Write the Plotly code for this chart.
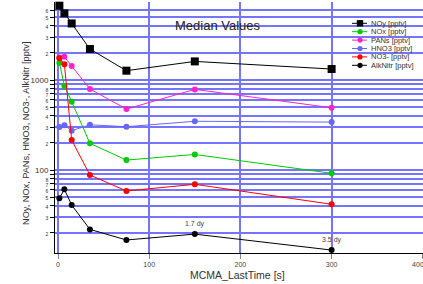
import math
import plotly.graph_objects as go

# ---- data ----
x_time = [1.5, 7, 15, 35, 75, 150, 300]
noy = [6700, 5500, 4250, 2210, 1270, 1610, 1325]
nox = [1560, 860, 575, 198, 129, 149, 92]
pans = [1780, 1810, 1430, 794, 476, 787, 492]
hno3 = [301, 314, 274, 318, 303, 348, 341]
no3 = [1750, 1500, 215, 88, 58.5, 69.4, 41.6]
alknitr = [48.5, 61, 40.8, 21.9, 16.7, 19.4, 12.9]

series_names = ["NOy [pptv]", "NOx [pptv]", "PANs [pptv]", "HNO3 [pptv]", "NO3- [pptv]", "AlkNitr [pptv]"]
series_values = [noy, nox, pans, hno3, no3, alknitr]
series_colors = ["#000000", "#00cc00", "#ff22cc", "#6666ff", "#ff0000", "#000000"]
series_symbols = ["square", "circle", "circle", "circle", "circle", "circle"]

x_tick_vals = [0, 100, 200, 300, 400]
x_tick_text = ["0", "100", "200", "300", "400"]
y_tick_vals = [20, 30, 40, 50, 60, 70, 80, 90,
               100, 200, 300, 400, 500, 600, 700, 800, 900,
               1000, 2000, 3000, 4000, 5000, 6000]
y_tick_text = ["2", "3", "4", "5", "6", "7", "8", "",
               "100", "2", "3", "4", "5", "6", "7", "8", "",
               "1000", "2", "3", "4", "5", "6"]
notes = [(150, 19.4, "1.7 dy"), (300, 12.9, "3.5 dy")]

# ---- layout geometry (pixels) ----
W, H = 423, 284
L, R, T, B = 55, 423, 2, 253
def px(x):
    return (x - L) / (R - L)
def py(y):
    return (B - y) / (B - T)

FONT = "Liberation Sans, Arial, sans-serif"
GRID = "#7474ff"

fig = go.Figure()
for name, vals, col, sym in zip(series_names, series_values, series_colors, series_symbols):
    fig.add_trace(go.Scatter(
        x=x_time, y=vals, name=name, mode="lines+markers",
        line=dict(color=col, width=1),
        marker=dict(symbol=sym, color=col, size=8 if sym == "square" else 6,
                    line=dict(width=0)),
        cliponaxis=False, showlegend=False, hoverinfo="skip"))

def fmt_tick(t):
    if t in ("100", "1000"):
        return t
    return '<span style="font-size:5px">' + t + '</span>' if t else ""

x_text = [t if t != "400" else t + "&nbsp;" * 5 for t in x_tick_text]

fig.update_xaxes(
    range=[-3.3, 400.2], tickvals=x_tick_vals, ticktext=x_text,
    automargin=False,
    showgrid=True, gridcolor=GRID, gridwidth=2, zeroline=False,
    showline=True, linecolor="black", linewidth=1,
    ticks="outside", ticklen=5, tickcolor="#888", tickwidth=1,
    ticklabeloverflow="allow",
    tickfont=dict(size=7, color="#444", family=FONT))
fig.update_yaxes(
    type="log", range=[1.078, 3.867], tickvals=y_tick_vals,
    ticktext=[fmt_tick(t) for t in y_tick_text],
    automargin=False,
    showgrid=True, gridcolor=GRID, gridwidth=2, zeroline=False,
    showline=True, linecolor="black", linewidth=1,
    ticks="outside", ticklen=4, tickcolor="black", tickwidth=1,
    tickfont=dict(size=8, color="#333", family=FONT))

annotations = []
for xv, yv, txt in notes:
    annotations.append(dict(x=xv, y=math.log10(yv), xref="x", yref="y", yshift=10,
                            xanchor="center", yanchor="middle",
                            text=txt, showarrow=False,
                            font=dict(size=7, color="#444", family=FONT)))
annotations.append(dict(x=px(26), y=py(134), xref="paper", yref="paper",
                        xanchor="center", yanchor="middle",
                        text="NOy, NOx, PANs, HNO3, NO3-, AlkNitr [pptv]",
                        textangle=-90, showarrow=False,
                        font=dict(size=9.2, color="#333", family=FONT)))
annotations.append(dict(x=px(237.5), y=py(274.5), xref="paper", yref="paper",
                        xanchor="center", yanchor="middle",
                        text="MCMA_LastTime [s]", showarrow=False,
                        font=dict(size=10.5, color="#333", family=FONT)))
annotations.append(dict(x=px(218), y=py(25), xref="paper", yref="paper",
                        xanchor="center", yanchor="middle",
                        text="Median Values", showarrow=False,
                        font=dict(size=13, color="#222", family=FONT)))

# manual compact legend
shapes = []
row0, dy = 23.3, 8.4
for i, (name, col, sym) in enumerate(zip(series_names, series_colors, series_symbols)):
    yy = row0 + i * dy
    shapes.append(dict(type="line", xref="paper", yref="paper",
                       x0=px(352), x1=px(367), y0=py(yy), y1=py(yy),
                       line=dict(color=col, width=1)))
    s = 3.2 if sym == "square" else 2.6
    shapes.append(dict(type="rect" if sym == "square" else "circle",
                       xref="paper", yref="paper",
                       x0=px(360 - s), x1=px(360 + s), y0=py(yy + s), y1=py(yy - s),
                       fillcolor=col, line=dict(width=0)))
    annotations.append(dict(x=px(369), y=py(yy), xref="paper", yref="paper",
                            xanchor="left", yanchor="middle", text=name,
                            showarrow=False,
                            font=dict(size=7.5, color="#333", family=FONT)))

fig.update_layout(
    width=W, height=H, autosize=False,
    margin=dict(l=L, r=W - R, t=T, b=H - B),
    paper_bgcolor="white", plot_bgcolor="white",
    font=dict(family=FONT), showlegend=False, hovermode=False,
    annotations=annotations, shapes=shapes)

fig.write_html(
    "out.html",
    config={"displayModeBar": False, "responsive": False},
    post_script=("document.body.style.margin='0';"
                 "document.body.style.overflow='hidden';"
                 "document.documentElement.style.overflow='hidden';"))
